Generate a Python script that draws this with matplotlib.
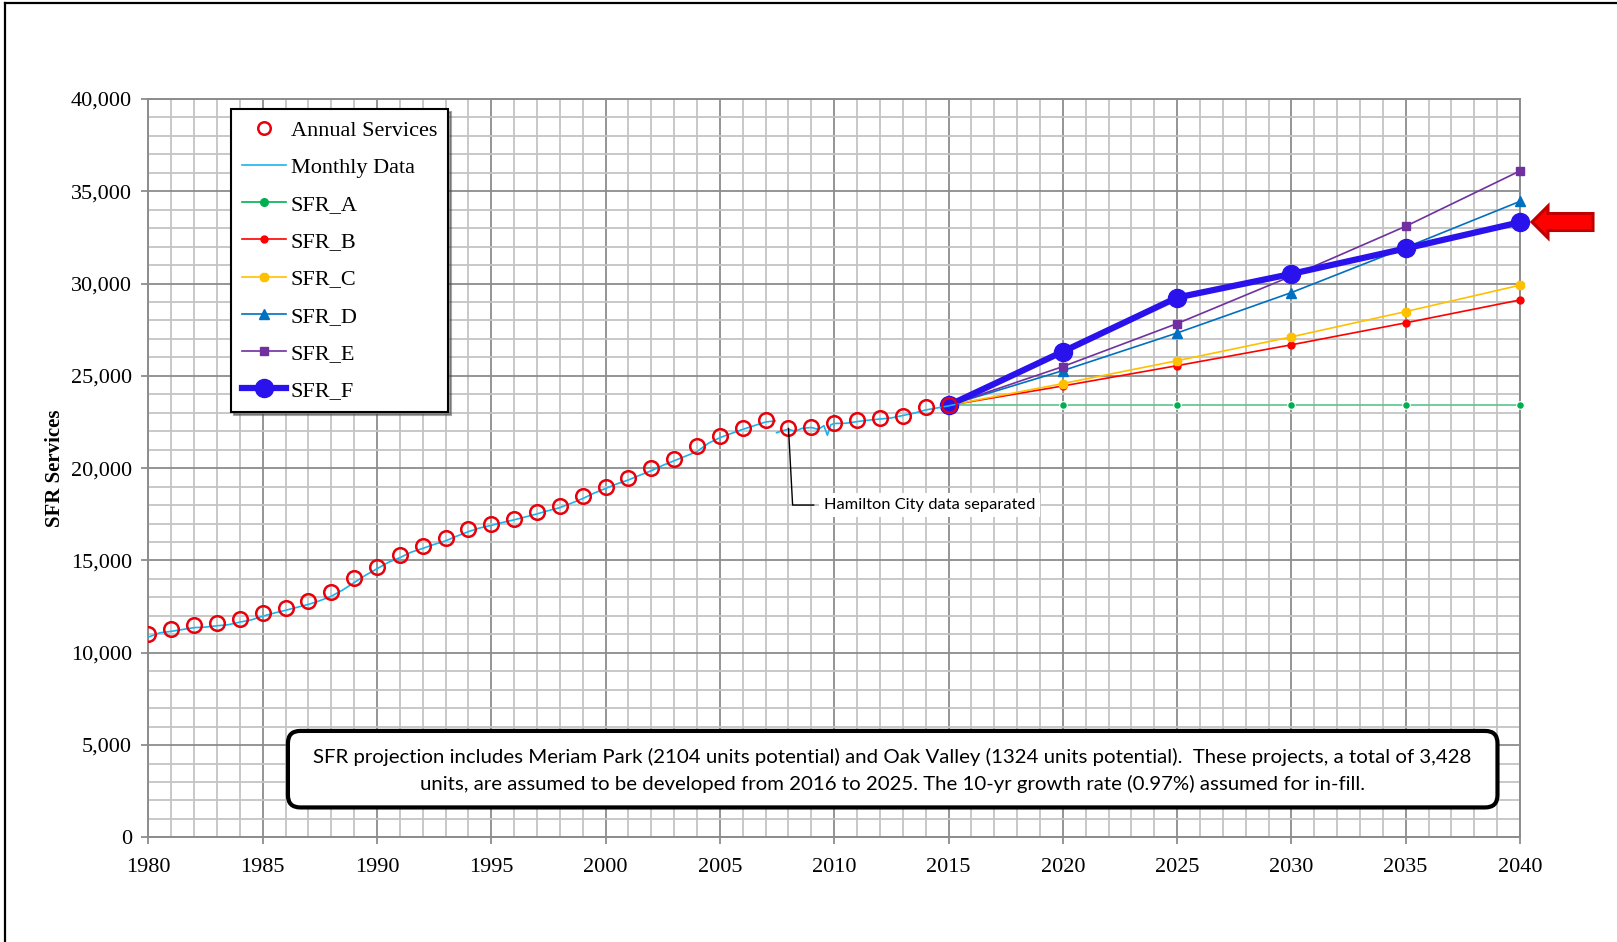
import numpy as np
import matplotlib
matplotlib.use("Agg")
import matplotlib.pyplot as plt
import matplotlib.patches as patches
from matplotlib.lines import Line2D
from matplotlib.ticker import MultipleLocator, FuncFormatter

# --- Data ---
annual_years = list(range(1980, 2016))
annual_services = [
    11000, 11300, 11480, 11600, 11850, 12150, 12420, 12780, 13290, 14050,
    14650, 15300, 15800, 16200, 16700, 17000, 17260, 17600, 17950, 18500,
    19000, 19450, 20000, 20500, 21200, 21750, 22200, 22580, 22180, 22240,
    22420, 22580, 22700, 22850, 23300, 23420,
]

# monthly record, hand-read at about half-year steps (nan = break in series)
monthly_t = [
    1980.0, 1980.5, 1981.0, 1981.5, 1982.0, 1982.5, 1983.0, 1983.5, 1984.0, 1984.5,
    1985.0, 1985.5, 1986.0, 1986.5, 1987.0, 1987.5, 1988.0, 1988.5, 1989.0, 1989.5,
    1990.0, 1990.5, 1991.0, 1991.5, 1992.0, 1992.5, 1993.0, 1993.5, 1994.0, 1994.5,
    1995.0, 1995.5, 1996.0, 1996.5, 1997.0, 1997.5, 1998.0, 1998.5, 1999.0, 1999.5,
    2000.0, 2000.5, 2001.0, 2001.5, 2002.0, 2002.5, 2003.0, 2003.5, 2004.0, 2004.5,
    2005.0, 2005.5, 2006.0, 2006.5, 2007.0, 2007.42, 2007.45, 2007.48, 2007.8, 2008.0,
    2008.3, 2008.6, 2009.0, 2009.3, 2009.55, 2009.7, 2009.85, 2010.0, 2010.5, 2011.0,
    2011.5, 2012.0, 2012.5, 2013.0, 2013.5, 2014.0, 2014.5, 2015.0, 2015.4,
]
monthly_v = [
    10850, 11080, 11160, 11260, 11360, 11390, 11460, 11520, 11660, 11780,
    11980, 12150, 12300, 12460, 12620, 12820, 13060, 13400, 13800, 14200,
    14550, 14900, 15150, 15450, 15650, 15870, 16060, 16320, 16560, 16760,
    16900, 17060, 17200, 17360, 17520, 17700, 17860, 18100, 18350, 18650,
    18900, 19150, 19360, 19620, 19860, 20150, 20400, 20650, 20900, 21350,
    21650, 21880, 22100, 22300, 22500, 22560, np.nan, 21920, 22050, 22100,
    22000, 22160, 22200, 22100, 22300, 21780, 22350, 22420, 22430, 22520,
    22600, 22660, 22720, 22850, 22980, 23150, 23260, 23370, 23480,
]

proj_years = [2015, 2020, 2025, 2030, 2035, 2040]
sfr_a = [23400, 23400, 23400, 23400, 23400, 23400]
sfr_b = [23400, 24450, 25550, 26680, 27870, 29110]
sfr_c = [23400, 24580, 25820, 27110, 28480, 29910]
sfr_d = [23400, 25280, 27320, 29510, 31950, 34450]
sfr_e = [23400, 25500, 27830, 30400, 33100, 36100]
sfr_f = [23400, 26310, 29240, 30520, 31900, 33320]

note_text = ("SFR projection includes Meriam Park (2104 units potential) and Oak Valley (1324 units potential).  "
             "These projects, a total of 3,428\nunits, are assumed to be developed from 2016 to 2025. "
             "The 10-yr growth rate (0.97%) assumed for in-fill.")

serif = "Liberation Serif"

fig = plt.figure(figsize=(16.17, 9.42), dpi=100)
ax = fig.add_axes([0.0918, 0.1111, 0.8482, 0.7839])

# --- Grid ---
ax.set_xlim(1980, 2040)
ax.set_ylim(0, 40000)
ax.xaxis.set_major_locator(MultipleLocator(5))
ax.xaxis.set_minor_locator(MultipleLocator(1))
ax.yaxis.set_major_locator(MultipleLocator(5000))
ax.yaxis.set_minor_locator(MultipleLocator(1000))
ax.grid(which='minor', color='#C4C4C4', linewidth=1.3, zorder=0)
ax.grid(which='major', color='#8C8C8C', linewidth=1.3, zorder=0)
ax.set_axisbelow(True)
for s in ax.spines.values():
    s.set_color('#8C8C8C')
    s.set_linewidth(1.4)
ax.tick_params(which='major', direction='out', length=5, width=1.3, color='#8C8C8C',
               labelsize=16)
ax.tick_params(axis='y', pad=7)
ax.tick_params(axis='x', pad=10)
ax.tick_params(which='minor', length=0)
ax.yaxis.set_major_formatter(FuncFormatter(lambda v, p: f"{int(v):,}"))
for lab in ax.get_xticklabels() + ax.get_yticklabels():
    lab.set_fontfamily(serif)

ax.set_ylabel("SFR Services", fontfamily=serif, fontsize=15, fontweight='bold')
ax.yaxis.set_label_coords(-0.0607, 0.5)

# --- Series ---
ax.plot(proj_years, sfr_a, color='#5CC48A', lw=1.2, marker='o', ms=5.5,
        mfc='#00B050', mec='white', mew=0.8, zorder=3, clip_on=False)
ax.plot(proj_years, sfr_b, color='#FF0000', lw=1.2, marker='o', ms=5,
        mfc='#FF0000', mec='#FF0000', zorder=3, clip_on=False)
ax.plot(proj_years, sfr_c, color='#FFC000', lw=1.2, marker='8', ms=7,
        mfc='#FFC000', mec='#FFC000', zorder=3, clip_on=False)
ax.plot(proj_years, sfr_d, color='#0070C0', lw=1.2, marker='^', ms=6.5,
        mfc='#0070C0', mec='#0070C0', zorder=3, clip_on=False)
ax.plot(proj_years, sfr_e, color='#7030A0', lw=1.2, marker='s', ms=6,
        mfc='#7030A0', mec='#7030A0', zorder=3, clip_on=False)
ax.plot(proj_years, sfr_f, color='#2A12EC', lw=4.5, marker='o', ms=13,
        mfc='#2A12EC', mec='#2A12EC', zorder=4, clip_on=False)
ax.plot(monthly_t, monthly_v, color='#1BB3EE', lw=1.2, zorder=5)
ax.plot(annual_years, annual_services, linestyle='none', marker='o', ms=10.5,
        mfc='none', mec='#E8000B', mew=1.8, zorder=6)

# --- Legend ---
handles = [
    Line2D([], [], linestyle='none', marker='o', ms=9, mfc='none', mec='#E8000B', mew=1.8),
    Line2D([], [], color='#1BB3EE', lw=1.2),
    Line2D([], [], color='#00B050', lw=1.2, marker='o', ms=5.5, mfc='#00B050', mec='#00B050'),
    Line2D([], [], color='#FF0000', lw=1.2, marker='o', ms=5, mfc='#FF0000', mec='#FF0000'),
    Line2D([], [], color='#FFC000', lw=1.2, marker='8', ms=7, mfc='#FFC000', mec='#FFC000'),
    Line2D([], [], color='#0070C0', lw=1.2, marker='^', ms=6.5, mfc='#0070C0', mec='#0070C0'),
    Line2D([], [], color='#7030A0', lw=1.2, marker='s', ms=6, mfc='#7030A0', mec='#7030A0'),
    Line2D([], [], color='#2A12EC', lw=4.5, marker='o', ms=13, mfc='#2A12EC', mec='#2A12EC'),
]
labels = ["Annual Services", "Monthly Data", "SFR_A", "SFR_B", "SFR_C", "SFR_D", "SFR_E", "SFR_F"]
leg = ax.legend(handles, labels, loc='upper left', bbox_to_anchor=(0.0601, 0.9865),
                borderaxespad=0, fancybox=False, shadow=True, framealpha=1,
                edgecolor='black', labelspacing=0.75, handlelength=2.0, handletextpad=0.2,
                borderpad=0.5, prop={'family': serif, 'size': 16})
leg.get_frame().set_linewidth(1.5)
leg.set_zorder(10)

# --- Hamilton City callout ---
ax.plot([2008.0, 2008.18, 2009.1], [22150, 18000, 18000], color='black', lw=1, zorder=7)
ax.text(2009.55, 18000, "Hamilton City data separated", fontfamily='Lato', fontsize=11.75,
        va='center', ha='left', zorder=7,
        bbox=dict(boxstyle='square,pad=0.3', fc='white', ec='none'))

# --- Note box ---
box = patches.FancyBboxPatch((0.1017, 0.0405), 0.8819, 0.1036,
                             boxstyle='round,pad=0,rounding_size=0.009',
                             mutation_aspect=1.858, transform=ax.transAxes,
                             fc='white', ec='black', lw=3, zorder=8)
ax.add_patch(box)
ax.text(0.5426, 0.0905, note_text, transform=ax.transAxes, ha='center', va='center',
        multialignment='center', fontfamily='Lato', fontsize=14.7, linespacing=1.56, zorder=9)

# --- Red arrow pointing at SFR_F 2040 ---
arrow_px = [(1532, 222), (1548, 206), (1548, 213.5), (1593, 213.5),
            (1593, 230.5), (1548, 230.5), (1548, 238)]
arrow_fig = [(x / 1617, 1 - y / 942) for x, y in arrow_px]
fig.patches.append(patches.Polygon(arrow_fig, closed=True, transform=fig.transFigure,
                                   fc='#FF0000', ec='#C00000', lw=2.2, joinstyle='miter'))

# --- Outer frame (cropped page border) ---
fig.add_artist(Line2D([5 / 1617, 5 / 1617], [0, 1 - 3 / 942], color='black', lw=1.6,
                      transform=fig.transFigure))
fig.add_artist(Line2D([5 / 1617, 1], [1 - 3 / 942, 1 - 3 / 942], color='black', lw=1.6,
                      transform=fig.transFigure))

fig.savefig("out.png", dpi=100)
